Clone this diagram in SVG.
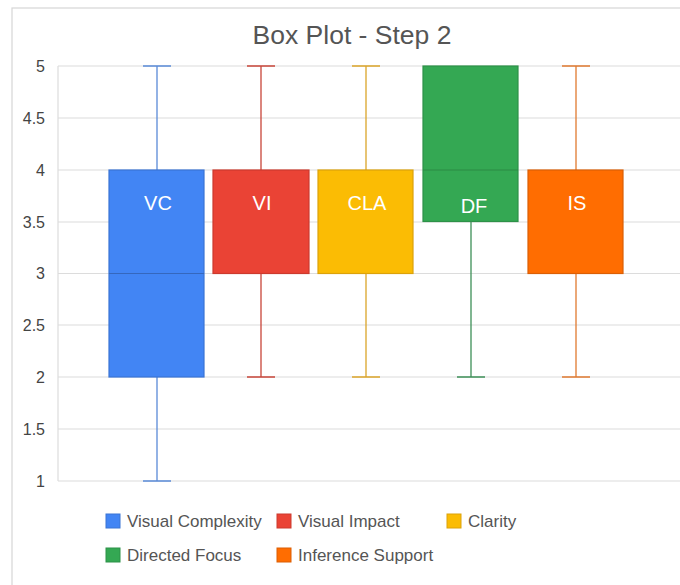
<svg xmlns="http://www.w3.org/2000/svg" width="680" height="585" viewBox="0 0 680 585">
<style>
.grid{stroke:#dcdcdc;stroke-width:1.2}
.ax{font-family:"Liberation Sans",Arial,sans-serif;font-size:16px;fill:#444;text-anchor:end}
.lbl{font-family:"Liberation Sans",Arial,sans-serif;font-size:20px;fill:#fff;text-anchor:middle}
.leg{font-family:"Liberation Sans",Arial,sans-serif;font-size:17px;fill:#555}
.w{fill:none;stroke-width:1.3}
</style>
<rect x="0" y="0" width="680" height="585" fill="#fff"/>
<rect x="12" y="8" width="680" height="590" fill="#fff" stroke="#d6d6d6" stroke-width="1.2"/>
<text x="352" y="44" font-family="Liberation Sans,Arial,sans-serif" font-size="26.5" fill="#555" text-anchor="middle">Box Plot - Step 2</text>
<g id="grid">
<line class="grid" x1="58" y1="66" x2="680" y2="66"/>
<line class="grid" x1="58" y1="118" x2="680" y2="118"/>
<line class="grid" x1="58" y1="170" x2="680" y2="170"/>
<line class="grid" x1="58" y1="222" x2="680" y2="222"/>
<line class="grid" x1="58" y1="273.5" x2="680" y2="273.5"/>
<line class="grid" x1="58" y1="325" x2="680" y2="325"/>
<line class="grid" x1="58" y1="377" x2="680" y2="377"/>
<line class="grid" x1="58" y1="429" x2="680" y2="429"/>
<line class="grid" x1="58" y1="481" x2="680" y2="481"/>
<line class="grid" x1="58" y1="66" x2="58" y2="481"/>
</g>
<g id="yaxis">
<text class="ax" x="45" y="72">5</text>
<text class="ax" x="45" y="124">4.5</text>
<text class="ax" x="45" y="176">4</text>
<text class="ax" x="45" y="228">3.5</text>
<text class="ax" x="45" y="279">3</text>
<text class="ax" x="45" y="331">2.5</text>
<text class="ax" x="45" y="383">2</text>
<text class="ax" x="45" y="435">1.5</text>
<text class="ax" x="45" y="487">1</text>
</g>
<g id="VC">
<path class="w" stroke="#5a8ad8" d="M143 66H171M157 66V170M157 377V481M143 481H171"/>
<rect x="109" y="170" width="95" height="207" fill="#4285F4" stroke="#3a74d4" stroke-width="1.2"/>
<line x1="109" y1="273.5" x2="204" y2="273.5" stroke="#3567bd" stroke-width="1.2"/>
<text class="lbl" x="158" y="210">VC</text>
</g>
<g id="VI">
<path class="w" stroke="#c8453a" d="M247 66H275M261 66V170M261 273.5V377M247 377H275"/>
<rect x="213" y="170" width="96" height="103.5" fill="#EA4335" stroke="#cc3a2e" stroke-width="1.2"/>
<text class="lbl" x="262" y="210">VI</text>
</g>
<g id="CLA">
<path class="w" stroke="#dba52a" d="M352 66H380M366 66V170M366 273.5V377M352 377H380"/>
<rect x="318" y="170" width="95" height="103.5" fill="#FBBC04" stroke="#dca20a" stroke-width="1.2"/>
<text class="lbl" x="367" y="210">CLA</text>
</g>
<g id="DF">
<rect x="423" y="66" width="95" height="155.5" fill="#34A853" stroke="#2d9148" stroke-width="1.2"/>
<line x1="423" y1="170" x2="518" y2="170" stroke="#2b8a45" stroke-width="1.2"/>
<path class="w" stroke="#3e9058" d="M471 221.5V377M457 377H485"/>
<text class="lbl" x="474" y="213">DF</text>
</g>
<g id="IS">
<path class="w" stroke="#e07a30" d="M562 66H590M576 66V170M576 273.5V377M562 377H590"/>
<rect x="528" y="170" width="95" height="103.5" fill="#FF6D01" stroke="#db5f05" stroke-width="1.2"/>
<text class="lbl" x="577" y="210">IS</text>
</g>
<g id="legend">
<rect x="106" y="514" width="14" height="14" fill="#4285F4" stroke="#3a74d4"/>
<text class="leg" x="127" y="527">Visual Complexity</text>
<rect x="277" y="514" width="14" height="14" fill="#EA4335" stroke="#cc3a2e"/>
<text class="leg" x="298" y="527">Visual Impact</text>
<rect x="447" y="514" width="14" height="14" fill="#FBBC04" stroke="#dca20a"/>
<text class="leg" x="468" y="527">Clarity</text>
<rect x="106" y="548" width="14" height="14" fill="#34A853" stroke="#2d9148"/>
<text class="leg" x="127" y="561">Directed Focus</text>
<rect x="277" y="548" width="14" height="14" fill="#FF6D01" stroke="#db5f05"/>
<text class="leg" x="298" y="561">Inference Support</text>
</g>
</svg>
